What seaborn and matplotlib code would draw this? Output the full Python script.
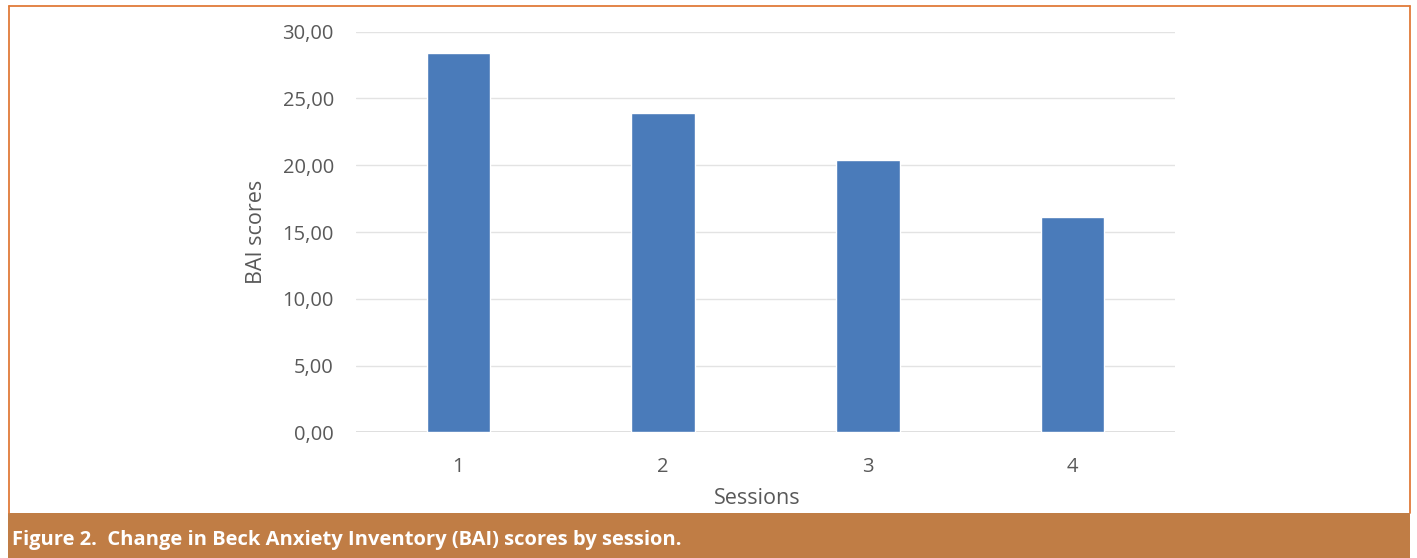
import matplotlib
matplotlib.use("Agg")
import matplotlib.pyplot as plt
from matplotlib.patches import Rectangle
from matplotlib.lines import Line2D
from matplotlib.ticker import FuncFormatter
import pandas as pd
import seaborn as sns

# BAI scores per therapy session
sessions = ["1", "2", "3", "4"]
bai_scores = [28.44, 23.88, 20.36, 16.14]
y_ticks = [0, 5, 10, 15, 20, 25, 30]
caption = "Figure 2.  Change in Beck Anxiety Inventory (BAI) scores by session."

df = pd.DataFrame({"Session": sessions, "BAI": bai_scores})

sns.set_theme(style="white")
plt.rcParams["font.family"] = ["Open Sans", "DejaVu Sans"]

W, H, DPI = 1417, 558, 100
fig = plt.figure(figsize=(W / DPI, H / DPI), dpi=DPI)
fig.patch.set_facecolor("white")

def px(x0, y0, x1, y1):
    """Convert pixel box (top-left origin) to figure fraction rect."""
    return [x0 / W, 1 - y1 / H, (x1 - x0) / W, (y1 - y0) / H]

ax = fig.add_axes(px(356, 31.7, 1175, 432.3))
sns.barplot(data=df, x="Session", y="BAI", color="#4A7BBA", saturation=1,
            width=0.31, ax=ax, zorder=3)

ax.set_ylim(0, 30)
ax.set_xlim(-0.5, 3.5)
ax.set_yticks(y_ticks)
ax.yaxis.set_major_formatter(FuncFormatter(lambda v, p: f"{v:.2f}".replace(".", ",")))
ax.grid(axis="y", color="#E3E3E3", linewidth=1.0, zorder=0)
ax.set_axisbelow(True)
for s in ax.spines.values():
    s.set_visible(False)
ax.axhline(0, color="#DADADA", linewidth=1.2, zorder=2)

ax.tick_params(axis="both", length=0, labelsize=14.5, labelcolor="#595959")
ax.tick_params(axis="y", pad=16)
ax.tick_params(axis="x", pad=18)

ax.set_xlabel("")
ax.set_ylabel("")
fig.text(257 / W, 1 - 232 / H, "BAI scores", rotation=90, ha="center", va="center",
         fontsize=15.5, color="#595959")
fig.text(757 / W, 1 - 499 / H, "Sessions", ha="center", va="center",
         fontsize=15.5, color="#595959")

# Orange frame and caption band
frame_color = "#E07B39"
band_color = "#C07D45"
fig.patches.append(Rectangle((8 / W, 0), (1410 - 8) / W, (H - 512.7) / H,
                             transform=fig.transFigure, facecolor=band_color,
                             edgecolor="none", zorder=1))
for xs, ys in [([8.5, 8.5], [5.5, 513]), ([8.5, 1409.5], [5.5, 5.5]),
               ([1409.5, 1409.5], [5.5, 513])]:
    fig.lines.append(Line2D([x / W for x in xs], [1 - y / H for y in ys],
                            transform=fig.transFigure, color=frame_color,
                            linewidth=1.3, zorder=2))

fig.text(12 / W, 1 - 540 / H, caption, ha="left", va="center", fontsize=14.5,
         fontweight="bold", color="white", zorder=3)

fig.savefig("out.png", dpi=DPI, facecolor="white")
